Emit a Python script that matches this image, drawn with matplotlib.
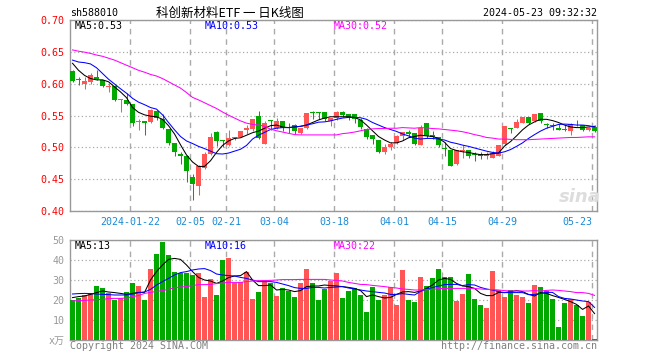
import matplotlib
matplotlib.use("Agg")
import matplotlib.pyplot as plt
import numpy as np

plt.rcParams["font.family"] = ["DejaVu Sans Mono", "Noto Sans CJK SC"]

# daily K line, 2024-01-08 .. 2024-05-23 (88 trading days)
opens = [0.620, 0.607, 0.600, 0.603, 0.610, 0.605, 0.5945, 0.597, 0.5745, 0.575,
         0.568, 0.5395, 0.541, 0.540, 0.557, 0.544, 0.529, 0.507, 0.489, 0.486,
         0.454, 0.439, 0.467, 0.490, 0.524, 0.5115, 0.5035, 0.515, 0.517, 0.527,
         0.529, 0.550, 0.506, 0.543, 0.531, 0.541, 0.532, 0.535, 0.523, 0.530,
         0.556, 0.555, 0.555, 0.5415, 0.546, 0.556, 0.553, 0.552, 0.543, 0.529,
         0.519, 0.511, 0.493, 0.501, 0.507, 0.518, 0.524, 0.522, 0.504, 0.5375,
         0.519, 0.517, 0.4995, 0.496, 0.474, 0.4945, 0.4955, 0.490, 0.489, 0.486,
         0.484, 0.487, 0.505, 0.531, 0.531, 0.539, 0.547, 0.5415, 0.5535, 0.536,
         0.535, 0.530, 0.5285, 0.526, 0.539, 0.535, 0.528, 0.532]
closes = [0.604, 0.605, 0.604, 0.614, 0.607, 0.596, 0.596, 0.574, 0.5755, 0.568,
          0.539, 0.541, 0.539, 0.558, 0.546, 0.530, 0.507, 0.492, 0.4865, 0.463,
          0.442, 0.470, 0.490, 0.516, 0.5105, 0.510, 0.514, 0.517, 0.525, 0.530,
          0.544, 0.514, 0.539, 0.542, 0.542, 0.531, 0.531, 0.525, 0.530, 0.554,
          0.554, 0.554, 0.544, 0.546, 0.556, 0.551, 0.548, 0.544, 0.532, 0.517,
          0.513, 0.492, 0.501, 0.506, 0.518, 0.5235, 0.521, 0.506, 0.531, 0.518,
          0.517, 0.503, 0.4975, 0.471, 0.496, 0.496, 0.486, 0.488, 0.487, 0.490,
          0.491, 0.5035, 0.533, 0.529, 0.540, 0.547, 0.5375, 0.552, 0.5415, 0.5345,
          0.533, 0.5275, 0.527, 0.5365, 0.5375, 0.527, 0.531, 0.525]
highs = [0.622, 0.611, 0.610, 0.616, 0.621, 0.606, 0.601, 0.598, 0.5755, 0.585,
         0.568, 0.544, 0.542, 0.560, 0.558, 0.552, 0.529, 0.507, 0.493, 0.4875,
         0.458, 0.4715, 0.492, 0.5225, 0.525, 0.512, 0.527, 0.517, 0.525, 0.535,
         0.544, 0.557, 0.541, 0.543, 0.546, 0.542, 0.538, 0.537, 0.530, 0.554,
         0.557, 0.556, 0.555, 0.546, 0.557, 0.557, 0.553, 0.553, 0.546, 0.530,
         0.519, 0.511, 0.506, 0.508, 0.519, 0.5235, 0.527, 0.522, 0.535, 0.5375,
         0.525, 0.517, 0.508, 0.496, 0.496, 0.503, 0.4955, 0.493, 0.492, 0.492,
         0.495, 0.5035, 0.534, 0.531, 0.544, 0.547, 0.547, 0.553, 0.5535, 0.539,
         0.539, 0.537, 0.535, 0.539, 0.5425, 0.535, 0.532, 0.535]
lows = [0.603, 0.598, 0.591, 0.599, 0.605, 0.595, 0.587, 0.573, 0.556, 0.567,
        0.534, 0.527, 0.520, 0.539, 0.543, 0.529, 0.504, 0.486, 0.474, 0.445,
        0.417, 0.4245, 0.466, 0.488, 0.502, 0.500, 0.5015, 0.512, 0.516, 0.521,
        0.526, 0.513, 0.505, 0.528, 0.529, 0.526, 0.522, 0.521, 0.521, 0.529,
        0.544, 0.544, 0.542, 0.534, 0.543, 0.548, 0.543, 0.538, 0.529, 0.513,
        0.506, 0.491, 0.489, 0.496, 0.505, 0.512, 0.517, 0.503, 0.503, 0.514,
        0.513, 0.500, 0.486, 0.470, 0.473, 0.484, 0.483, 0.478, 0.481, 0.482,
        0.483, 0.486, 0.503, 0.523, 0.531, 0.539, 0.5365, 0.5405, 0.539, 0.530,
        0.5275, 0.527, 0.526, 0.519, 0.533, 0.526, 0.525, 0.524]

ma5 = [0.632, 0.621, 0.613, 0.608, 0.606, 0.606, 0.603, 0.595, 0.587, 0.578,
       0.5625, 0.555, 0.551, 0.549, 0.548, 0.544, 0.534, 0.521, 0.504, 0.488,
       0.477, 0.470, 0.470, 0.479, 0.492, 0.503, 0.510, 0.514, 0.515, 0.519,
       0.523, 0.5255, 0.530, 0.534, 0.535, 0.532, 0.531, 0.532, 0.533, 0.535,
       0.539, 0.543, 0.546, 0.548, 0.548, 0.548, 0.548, 0.547, 0.543, 0.535,
       0.526, 0.517, 0.5115, 0.507, 0.507, 0.510, 0.515, 0.517, 0.519, 0.518,
       0.517, 0.514, 0.508, 0.498, 0.495, 0.493, 0.492, 0.490, 0.4885, 0.4885,
       0.490, 0.491, 0.502, 0.509, 0.518, 0.5275, 0.535, 0.540, 0.544, 0.544,
       0.542, 0.539, 0.535, 0.532, 0.531, 0.531, 0.532, 0.533]
ma10 = [0.637, 0.634, 0.633, 0.631, 0.625, 0.616, 0.607, 0.5995, 0.592, 0.585,
        0.577, 0.571, 0.567, 0.5625, 0.560, 0.551, 0.539, 0.5275, 0.517, 0.510,
        0.506, 0.5015, 0.498, 0.494, 0.490, 0.4895, 0.491, 0.494, 0.497, 0.503,
        0.513, 0.519, 0.5235, 0.528, 0.530, 0.531, 0.531, 0.532, 0.533, 0.535,
        0.537, 0.5395, 0.540, 0.5415, 0.544, 0.546, 0.547, 0.547, 0.5465, 0.544,
        0.539, 0.535, 0.531, 0.528, 0.525, 0.521, 0.518, 0.5145, 0.513, 0.514,
        0.514, 0.513, 0.5115, 0.508, 0.506, 0.5035, 0.5015, 0.499, 0.4965, 0.494,
        0.492, 0.491, 0.493, 0.4965, 0.5015, 0.507, 0.514, 0.520, 0.5255, 0.530,
        0.533, 0.536, 0.5365, 0.536, 0.535, 0.535, 0.534, 0.532]
ma30 = [0.653, 0.651, 0.6495, 0.6475, 0.645, 0.643, 0.640, 0.637, 0.633, 0.629,
        0.625, 0.621, 0.618, 0.6145, 0.612, 0.608, 0.603, 0.598, 0.593, 0.586,
        0.5785, 0.5745, 0.570, 0.5655, 0.561, 0.5555, 0.5505, 0.546, 0.5415, 0.538,
        0.536, 0.535, 0.533, 0.5285, 0.526, 0.524, 0.522, 0.520, 0.5195, 0.5195,
        0.5195, 0.5195, 0.5195, 0.5195, 0.5195, 0.5215, 0.5225, 0.524, 0.526, 0.528,
        0.529, 0.5295, 0.5295, 0.530, 0.530, 0.531, 0.5305, 0.530, 0.531, 0.5305,
        0.5295, 0.529, 0.528, 0.527, 0.526, 0.5245, 0.5225, 0.520, 0.518, 0.5155,
        0.5145, 0.513, 0.513, 0.5125, 0.512, 0.512, 0.512, 0.5125, 0.513, 0.5135,
        0.514, 0.5145, 0.515, 0.5155, 0.5155, 0.516, 0.5165, 0.5165]

# volume in 10k lots
volumes = [20.0, 21.2, 22.5, 23.3, 27.0, 25.8, 23.7, 20.0, 20.8, 23.8,
           28.7, 27.0, 20.0, 35.5, 43.0, 49.0, 42.5, 34.0, 33.3, 33.3,
           32.5, 33.3, 21.3, 30.3, 22.5, 40.0, 41.2, 28.7, 29.2, 34.2,
           20.5, 24.2, 30.0, 28.3, 22.2, 25.8, 24.7, 21.7, 28.3, 35.5,
           28.3, 20.0, 25.3, 29.7, 33.7, 21.2, 24.7, 26.2, 22.7, 14.2,
           26.7, 20.0, 22.5, 26.3, 17.5, 35.0, 20.0, 19.0, 31.7, 27.2,
           31.2, 35.5, 31.7, 31.3, 19.7, 22.8, 33.0, 20.5, 17.5, 16.2,
           34.5, 25.0, 21.7, 25.0, 22.5, 21.5, 18.7, 27.7, 26.3, 24.7,
           20.5, 6.7, 18.3, 20.5, 17.5, 12.0, 19.2, 0.5]
vol_ma5 = [21.2, 21.7, 22.0, 22.8, 23.7, 24.5, 24.0, 23.7, 23.3, 22.8,
           23.3, 23.8, 23.8, 30.0, 34.2, 37.5, 40.3, 40.8, 40.3, 37.5,
           34.2, 31.3, 30.0, 29.5, 28.3, 29.5, 31.2, 32.0, 32.2, 34.2,
           30.0, 27.2, 27.2, 27.5, 25.0, 25.3, 25.0, 24.2, 24.7, 26.7,
           27.0, 27.0, 27.5, 27.2, 27.0, 26.7, 26.3, 25.8, 24.7, 21.7,
           22.5, 21.7, 21.0, 21.3, 22.8, 24.0, 24.2, 23.8, 24.5, 25.8,
           27.5, 30.0, 30.8, 30.3, 28.3, 27.0, 26.7, 25.8, 23.3, 22.2,
           22.2, 23.8, 23.7, 24.2, 24.7, 24.2, 22.8, 22.0, 23.7, 23.3,
           22.2, 21.3, 20.3, 19.2, 17.8, 15.3, 17.0, 13.2]
vol_ma10 = [23.0, 23.2, 23.3, 23.2, 23.0, 22.8, 22.7, 22.5, 22.5, 22.5,
            23.0, 23.7, 24.0, 25.3, 27.5, 29.2, 30.8, 32.5, 33.7, 34.2,
            35.0, 35.5, 35.7, 34.7, 33.0, 32.5, 32.2, 32.0, 31.3, 30.8,
            30.0, 29.2, 29.2, 29.2, 28.8, 28.0, 27.2, 26.2, 25.8, 25.8,
            26.3, 26.3, 26.0, 26.3, 26.5, 26.7, 26.0, 25.5, 25.0, 24.5,
            24.2, 23.8, 23.5, 22.8, 22.8, 23.2, 22.8, 22.5, 24.3, 25.5,
            26.2, 27.0, 27.7, 27.8, 27.8, 27.2, 27.7, 27.5, 26.3, 25.5,
            25.0, 24.2, 23.7, 23.7, 23.7, 23.7, 22.7, 22.8, 23.3, 23.8,
            23.8, 21.7, 20.8, 20.5, 20.0, 19.5, 19.2, 16.3]
vol_ma30 = [19.5, 19.7, 19.8, 20.0, 20.2, 20.3, 20.7, 20.8, 20.8, 21.0,
            21.7, 22.2, 23.3, 23.8, 24.3, 24.7, 25.3, 26.2, 26.5, 26.7,
            27.2, 27.7, 27.7, 27.8, 28.2, 28.5, 28.8, 28.8, 28.8, 29.2,
            29.5, 29.7, 29.7, 29.8, 30.0, 30.2, 30.2, 30.2, 30.3, 30.3,
            30.3, 30.3, 30.3, 30.0, 29.8, 29.5, 28.8, 28.3, 27.8, 27.7,
            27.3, 27.0, 26.7, 26.3, 26.0, 25.5, 25.3, 25.0, 25.0, 25.2,
            25.3, 25.7, 25.8, 25.8, 25.8, 25.8, 25.8, 25.8, 25.5, 25.3,
            25.2, 25.0, 24.7, 24.5, 24.5, 24.5, 24.5, 24.7, 24.5, 24.8,
            25.0, 24.8, 24.5, 24.2, 23.7, 23.7, 23.3, 22.3]

tick_pos = [10, 20, 26, 34, 44, 54, 62, 72, 87]
tick_labels = ["2024-01-22", "02-05", "02-21", "03-04", "03-18",
               "04-01", "04-15", "04-29", "05-23"]

up_color = "#ff5555"
down_color = "#00a800"
frame_color = "#999999"
grid_color = "#aaaaaa"

n = len(closes)
x = np.arange(n) + 0.42
colors = [up_color if c >= o else down_color for o, c in zip(opens, closes)]

W, H = 660, 360
fig = plt.figure(figsize=(6.6, 3.6), dpi=100)
ax = fig.add_axes([70 / W, 1 - 211 / H, 527 / W, 191 / H])
axv = fig.add_axes([70 / W, 1 - 340 / H, 527 / W, 100 / H])

# candles
ax.vlines(x, lows, highs, colors=colors, linewidth=0.75, zorder=3)
body_low = [min(o, c) for o, c in zip(opens, closes)]
body_h = [max(abs(c - o), 0.0012) for o, c in zip(opens, closes)]
ax.bar(x, body_h, bottom=body_low, width=0.75, color=colors, linewidth=0, zorder=3)

ax.plot(x, ma5, color="black", lw=0.75, zorder=4)
ax.plot(x, ma10, color="#0000ff", lw=0.75, zorder=4)
ax.plot(x, ma30, color="#ff00ff", lw=0.75, zorder=4)

ax.set_xlim(0, 87.83)
ax.set_ylim(0.40, 0.70)
ax.set_yticks([0.40, 0.45, 0.50, 0.55, 0.60, 0.65, 0.70])
ax.set_yticklabels(["%.2f" % v for v in [0.40, 0.45, 0.50, 0.55, 0.60, 0.65, 0.70]])
ax.set_xticks(tick_pos)
ax.set_xticklabels(tick_labels)
ax.get_xticklabels()[-1].set_horizontalalignment("right")
ax.tick_params(axis="y", length=0, pad=4, labelsize=7.2, labelcolor="#ff0000")
ax.tick_params(axis="x", length=0, pad=4, labelsize=7.2, labelcolor="#1a8ad4")

# volume
axv.bar(x, volumes, width=0.8, color=colors, linewidth=0, zorder=3)
axv.plot(x, vol_ma5, color="black", lw=0.75, zorder=4)
axv.plot(x, vol_ma10, color="#0000ff", lw=0.75, zorder=4)
axv.plot(x, vol_ma30, color="#ff00ff", lw=0.75, zorder=4)
axv.set_xlim(0, 87.83)
axv.set_ylim(0, 50)
axv.set_xticks(tick_pos)
axv.set_xticklabels([])
axv.set_yticks([0, 10, 20, 30, 40, 50])
axv.set_yticklabels(["x万", "10", "20", "30", "40", "50"])
axv.tick_params(axis="y", length=0, pad=4, labelsize=7.2, labelcolor="#999999")
axv.tick_params(axis="x", length=0)

for a in [ax, axv]:
    a.set_axisbelow(True)
    a.grid(axis="x", color=grid_color, linestyle=(0, (4, 3.5)), linewidth=1.0)
    a.grid(axis="y", color=grid_color, linestyle=(0, (1, 2)), linewidth=0.9)
    for s in a.spines.values():
        s.set_color(frame_color)
        s.set_linewidth(1.0)

# header and legends
def px(xp, yp):
    return xp / W, 1 - yp / H

fig.text(*px(70, 13), "sh588010", fontsize=7.2, va="center", ha="left")
fig.text(*px(230, 13), "科创新材料ETF 一 日K线图", fontsize=9, va="center", ha="center",
         family=["Noto Sans CJK SC", "DejaVu Sans"])
fig.text(*px(597, 13), "2024-05-23 09:32:32", fontsize=7.2, va="center", ha="right")

fig.text(*px(75, 26), "MA5:%.2f" % ma5[-1], fontsize=7.2, va="center", color="black")
fig.text(*px(205, 26), "MA10:%.2f" % ma10[-1], fontsize=7.2, va="center", color="#0000ff")
fig.text(*px(334, 26), "MA30:%.2f" % ma30[-1], fontsize=7.2, va="center", color="#ff00ff")

fig.text(*px(75, 246), "MA5:%.0f" % vol_ma5[-1], fontsize=7.2, va="center", color="black")
fig.text(*px(205, 246), "MA10:%.0f" % vol_ma10[-1], fontsize=7.2, va="center", color="#0000ff")
fig.text(*px(334, 246), "MA30:%.0f" % vol_ma30[-1], fontsize=7.2, va="center", color="#ff00ff")

fig.text(*px(70, 346), "Copyright 2024 SINA.COM", fontsize=7.2, va="center", ha="left", color="#808080")
fig.text(*px(597, 346), "http://finance.sina.com.cn", fontsize=7.2, va="center", ha="right", color="#808080")

fig.text(*px(580, 197), "sina", fontsize=13, va="center", ha="center", color="#dddddd",
         style="italic", weight="bold", family="DejaVu Sans")

fig.savefig("out.png", dpi=100)
